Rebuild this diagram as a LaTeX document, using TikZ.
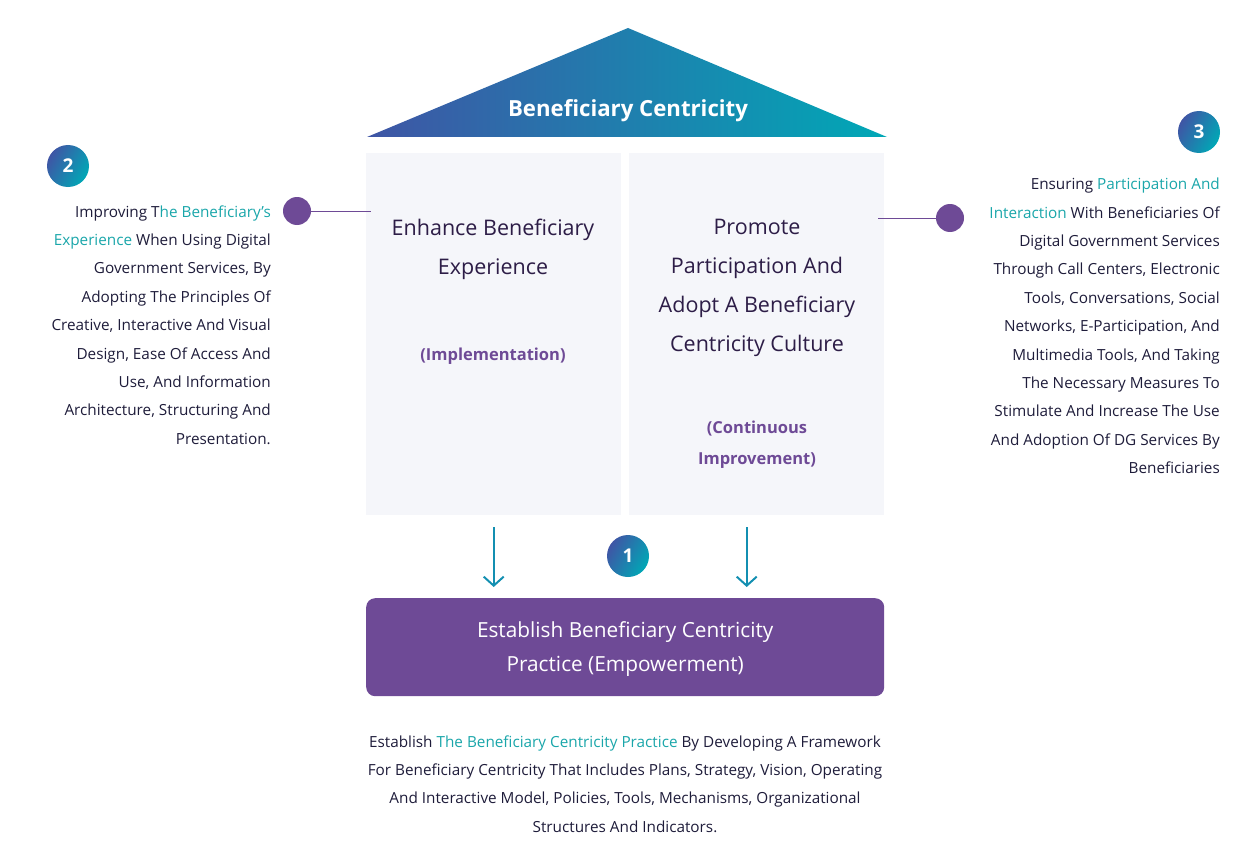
\documentclass[tikz,border=0pt]{standalone}
\usepackage{fontspec}
\setmainfont{Open Sans}
\usepackage{xcolor}
\usepackage{tikz}
\usetikzlibrary{arrows.meta,positioning,calc}
\definecolor{azul}{HTML}{3F55A5}
\definecolor{turquesa}{HTML}{00A8B6}
\definecolor{roxo}{HTML}{6E4A96}
\definecolor{tinta}{HTML}{1E1C3A}
\definecolor{pilartxt}{HTML}{2D1D47}
\definecolor{realce}{HTML}{1AA6AA}
\definecolor{fundo}{HTML}{F5F6FA}
\newcommand{\hl}[1]{\textcolor{realce}{#1}}

\begin{document}
\begin{tikzpicture}[x=1pt, y=-1pt, >=Stealth,
  pillar/.style={fill=fundo, anchor=north west, inner sep=0pt,
                 minimum width=255pt, minimum height=362pt},
  ptitle/.style={align=center, text=pilartxt, inner sep=0pt,
                 font=\fontsize{21.5}{39}\selectfont},
  ptag/.style={align=center, text=roxo, inner sep=0pt,
               font=\bfseries\fontsize{16.5}{31}\selectfont},
  sidetxt/.style={align=right, text=tinta, inner sep=0pt,
                  font=\fontsize{15.3}{28.4}\selectfont},
  badge/.style={circle, minimum size=42pt, inner sep=0pt, text=white,
                font=\bfseries\fontsize{19}{19}\selectfont,
                shading=axis, left color=azul, right color=turquesa, shading angle=60},
  dot/.style={circle, fill=roxo, minimum size=28pt, inner sep=0pt},
  link/.style={draw=roxo, line width=1pt},
  flow/.style={-{Straight Barb[length=9pt, width=20pt]}, line width=2pt, draw=turquesa!70!azul}]

  \useasboundingbox (0,0) rectangle (1253,864);

  % telhado
  \coordinate (roofL) at (367,137);
  \coordinate (roofR) at (887,137);
  \coordinate (roofT) at (628,28);
  \shade[left color=azul, right color=turquesa] (roofL) -- (roofT) -- (roofR) -- cycle;
  \node[text=white, font=\bfseries\fontsize{22.2}{22.2}\selectfont] (roof) at (628,111) {Beneficiary Centricity};

  % pilares
  \node[pillar] (lp) at (366,153) {};
  \node[pillar] (rp) at (629,153) {};
  \node[ptitle] (lpt) at (493,249) {Enhance Beneficiary\\Experience};
  \node[ptag] (lptag) at (493,356) {(Implementation)};
  \node[ptitle] (rpt) at (757,288) {Promote\\Participation And\\Adopt A Beneficiary\\Centricity Culture};
  \node[ptag] (rptag) at (757,445) {(Continuous\\Improvement)};

  % base
  \node[fill=roxo, rounded corners=9pt, anchor=north west, minimum width=518pt, minimum height=98pt,
        align=center, text=white, font=\fontsize{20.8}{34}\selectfont, text depth=2pt] (base) at (366,598)
        {Establish Beneficiary Centricity\\Practice (Empowerment)};

  \draw[flow] ($(lp.south)+(0,12)$) -- ($(base.north -| lp.south)+(0,-11)$);
  \draw[flow] ($(rp.south)+(-10,12)$) -- ($(base.north -| rp.south)+(-10,-11)$);

  % numeros
  \node[badge] (n1) at (628,556) {1};
  \node[badge] (n2) at (68,166) {2};
  \node[badge] (n3) at (1199,132) {3};

  % textos laterais
  \node[dot] (dotL) at (297,211) {};
  \node[dot] (dotR) at (950,218) {};
  \draw[link] (dotL) -- ($(dotL -| lp.west)+(5,0)$);
  \draw[link] ($(dotR -| rp.east)+(-6,0)$) -- (dotR);

  \node[sidetxt, anchor=east] (txtL) at (271,325)
    {Improving T\hl{he Beneficiary's}\\\hl{Experience} When Using Digital\\Government Services, By\\Adopting The Principles Of\\Creative, Interactive And Visual\\Design, Ease Of Access And\\Use, And Information\\Architecture, Structuring And\\Presentation.};
  \node[sidetxt, anchor=east] (txtR) at (1220,326)
    {Ensuring \hl{Participation And}\\\hl{Interaction} With Beneficiaries Of\\Digital Government Services\\Through Call Centers, Electronic\\Tools, Conversations, Social\\Networks, E-Participation, And\\Multimedia Tools, And Taking\\The Necessary Measures To\\Stimulate And Increase The Use\\And Adoption Of DG Services By\\Beneficiaries};
  \node[sidetxt, align=center] (txtB) at (625,784)
    {Establish \hl{The Beneficiary Centricity Practice} By Developing A Framework\\For Beneficiary Centricity That Includes Plans, Strategy, Vision, Operating\\And Interactive Model, Policies, Tools, Mechanisms, Organizational\\Structures And Indicators.};
\end{tikzpicture}
\end{document}
